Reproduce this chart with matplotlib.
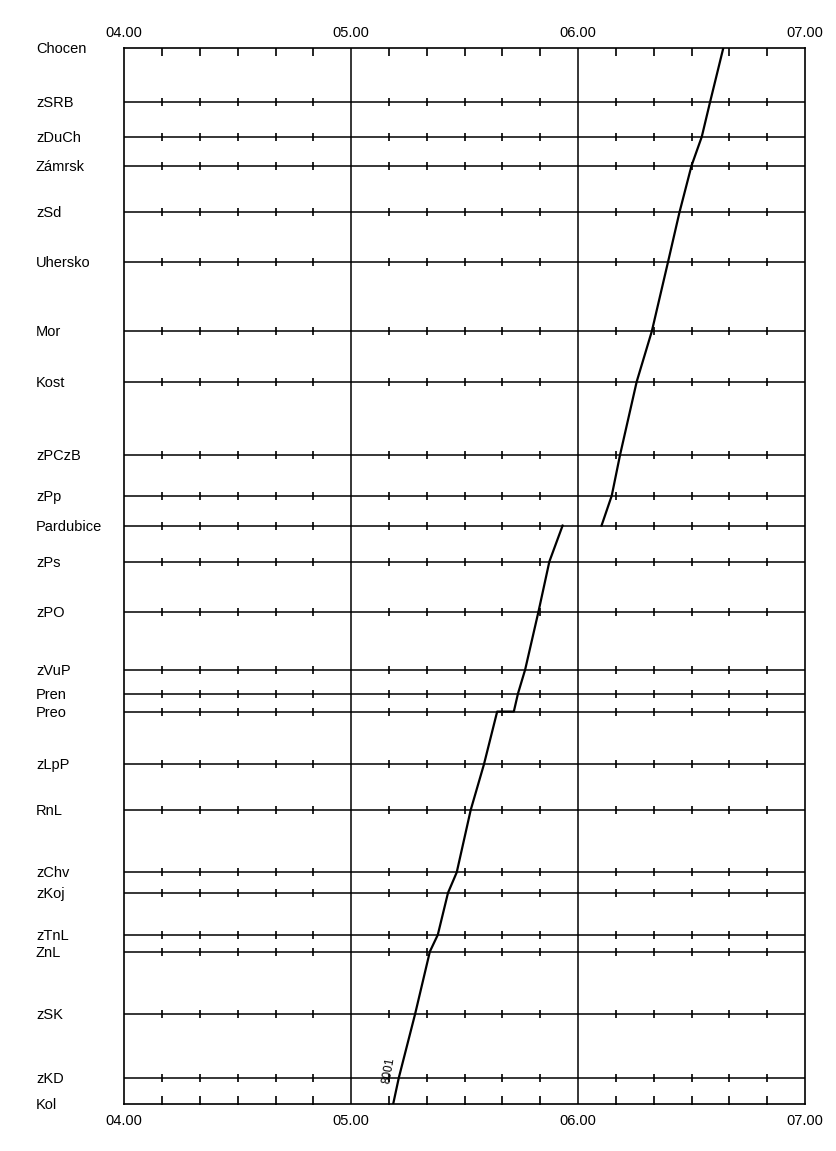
import numpy as np
import matplotlib.pyplot as plt

# stations from Kolín (0 km) up to Choceň
stations = ["Kol", "zKD", "zSK", "ZnL", "zTnL", "zKoj", "zChv", "RnL", "zLpP",
            "Preo", "Pren", "zVuP", "zPO", "zPs", "Pardubice", "zPp", "zPCzB",
            "Kost", "Mor", "Uhersko", "zSd", "Zámrsk", "zDuCh", "zSRB", "Chocen"]
km = [0.0, 2.2, 7.5, 12.7, 14.1, 17.6, 19.3, 24.5, 28.3,
      32.7, 34.2, 36.2, 41.0, 45.2, 48.2, 50.7, 54.1,
      60.2, 64.4, 70.2, 74.3, 78.2, 80.6, 83.5, 88.0]

# train 8001, minutes after midnight at each station
t1_stations = ["Kol", "zKD", "zSK", "ZnL", "zTnL", "zKoj", "zChv", "RnL", "zLpP",
               "Preo", "Preo", "Pren", "zVuP", "zPO", "zPs", "Pardubice"]
t1_times = [311.1, 312.6, 316.9, 320.8, 322.9, 325.6, 327.9, 331.6, 335.1,
            338.6, 343.0, 344.1, 346.0, 349.5, 352.4, 355.9]

t2_stations = ["Pardubice", "zPp", "zPCzB", "Kost", "Mor", "Uhersko", "zSd",
               "Zámrsk", "zDuCh", "zSRB", "Chocen"]
t2_times = [366.2, 368.9, 371.1, 375.5, 379.5, 383.8, 386.8,
            390.0, 392.7, 394.9, 398.4]

train_no = "8001"
hours = [4, 5, 6, 7]
hour_labels = ["04.00", "05.00", "06.00", "07.00"]

pos = dict(zip(stations, km))
font = ["Liberation Sans", "DejaVu Sans"]

fig = plt.figure(figsize=(8.36, 11.51), dpi=100)
W, H = 836, 1151
x0, x1, ytop, ybot = 124.3, 805, 48, 1104
ax = fig.add_axes([x0 / W, 1 - ybot / H, (x1 - x0) / W, (ybot - ytop) / H])
ax.set_xlim(4, 7)
ax.set_ylim(km[0], km[-1])
ax.set_xticks([])
ax.set_yticks([])
for s in ax.spines.values():
    s.set_linewidth(1.2)
    s.set_color("black")

# station lines
for k in km[1:-1]:
    ax.axhline(k, color="black", lw=1.1)
for h in hours[1:-1]:
    ax.axvline(h, color="black", lw=1.1)

# 10-minute marks on every station line
minutes = np.array([h + m / 60 for h in hours[:-1] for m in range(10, 60, 10)])
for k in km[1:-1]:
    ax.plot(minutes, [k] * len(minutes), ls="none", marker="|",
            ms=5.5, mew=1.2, color="black")
for k in (km[0], km[-1]):
    ax.plot(minutes, [k] * len(minutes), ls="none", marker="|",
            ms=11.5, mew=1.2, color="black", clip_on=True)

# train paths
for names, times in ((t1_stations, t1_times), (t2_stations, t2_times)):
    ax.plot(np.array(times) / 60, [pos[n] for n in names], color="black", lw=1.6)

ax.text(t1_times[1] / 60 - 0.045, pos["zKD"] + 0.6, train_no, rotation=80,
        ha="center", va="center", fontsize=8.5, family=font)

# station names
for name, k in zip(stations, km):
    y = ytop + (km[-1] - k) / (km[-1] - km[0]) * (ybot - ytop)
    fig.text(36 / W, 1 - (y + 1) / H, name, ha="left", va="center",
             fontsize=10.5, family=font)

# hour labels above and below
for h, lab in zip(hours, hour_labels):
    x = x0 + (h - 4) / 3 * (x1 - x0)
    fig.text(x / W, 1 - 33 / H, lab, ha="center", va="center", fontsize=10.5, family=font)
    fig.text(x / W, 1 - 1121 / H, lab, ha="center", va="center", fontsize=10.5, family=font)

fig.savefig("out.png", dpi=100, facecolor="white")
